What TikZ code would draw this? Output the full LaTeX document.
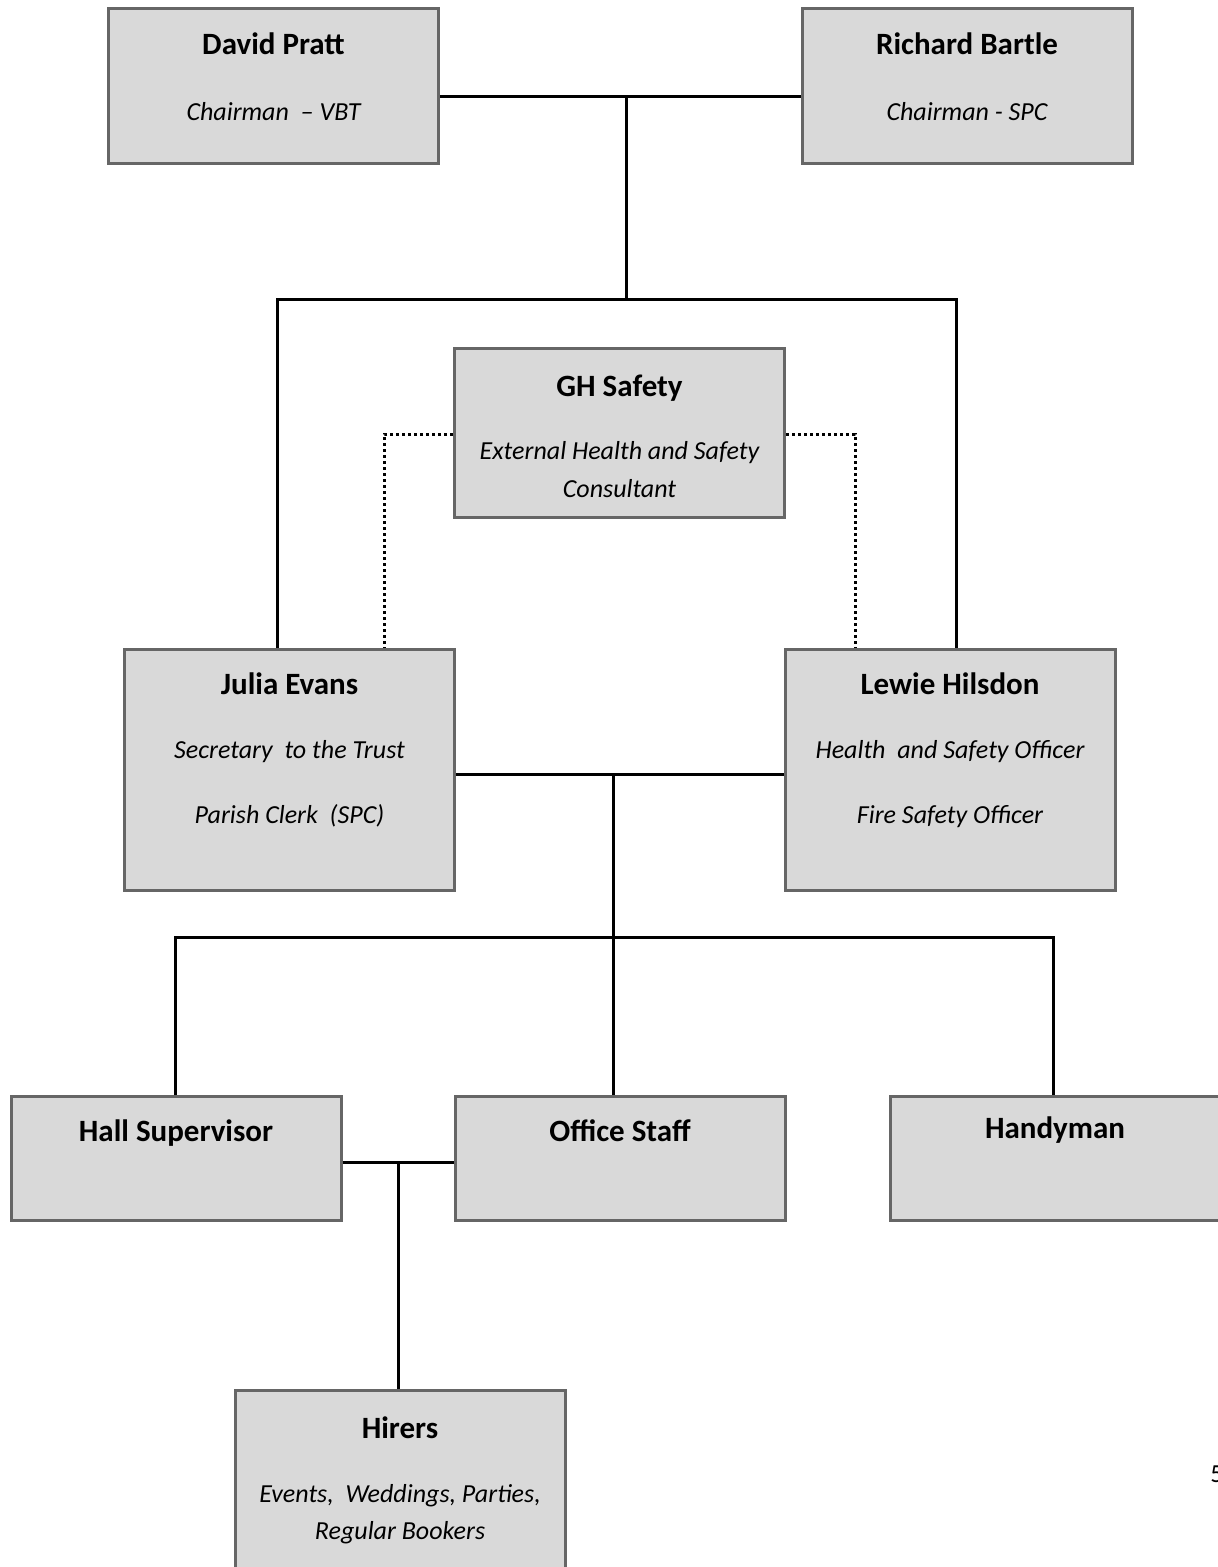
\documentclass[tikz,border=0pt]{standalone}
\usepackage{fontspec}
\setmainfont{Carlito}
\definecolor{boxfill}{HTML}{D9D9D9}
\definecolor{boxedge}{HTML}{666666}
\tikzset{
  box/.style 2 args={draw=boxedge, fill=boxfill, line width=1.5pt, inner sep=0pt,
    minimum width=#1*0.5pt, minimum height=#2*0.5pt},
  ttl/.style={font=\bfseries\fontsize{15.5}{18}\selectfont, anchor=base, inner sep=0pt},
  sub/.style={font=\itshape\fontsize{13}{15}\selectfont, anchor=base, inner sep=0pt},
  conn/.style={line width=1.5pt, black},
  dotconn/.style={line width=1.5pt, black, dash pattern=on 1.5pt off 1.5pt},
}
\begin{document}
\begin{tikzpicture}[x=0.5pt,y=-0.5pt]
\useasboundingbox (0,0) rectangle (1218,1567);
\clip (0,0) rectangle (1218,1567);
\fill[white] (0,0) rectangle (1218,1567);

% boxes
\node[box={330}{155}] (dp) at (273.5,86) {};
\node[box={330}{155}] (rb) at (967,86) {};
\node[box={330}{168}] (gh) at (619.5,433) {};
\node[box={330}{241}] (je) at (289.5,769.5) {};
\node[box={330}{241}] (lh) at (950,769.5) {};
\node[box={330}{124}] (hs) at (176,1158) {};
\node[box={330}{124}] (os) at (620,1158) {};
\node[box={330}{124}] (hm) at (1055,1158) {};
\node[box={330}{300}] (hi) at (400,1540) {};

% texts
\node[ttl] (dpT) at (273.5,55) {David Pratt};
\node[sub] (dpS) at (273.5,121) {Chairman\ \ – VBT};
\node[ttl] (rbT) at (967,55) {Richard Bartle};
\node[sub] (rbS) at (967,121) {Chairman - SPC};
\node[ttl] (ghT) at (619.5,396) {GH Safety};
\node[sub] (ghS1) at (619.5,459) {External\ Health\ and\ Safety};
\node[sub] (ghS2) at (619.5,497) {Consultant};
\node[ttl] (jeT) at (289.5,694) {Julia Evans};
\node[sub] (jeS1) at (289.5,758) {Secretary\ \ to the Trust};
\node[sub] (jeS2) at (289.5,823) {Parish Clerk\ \ (SPC)};
\node[ttl] (lhT) at (950,694) {Lewie Hilsdon};
\node[sub] (lhS1) at (950,758) {Health\ \ and Safety Officer};
\node[sub] (lhS2) at (950,823) {Fire Safety Officer};
\node[ttl] (hsT) at (176,1141) {Hall Supervisor};
\node[ttl] (osT) at (620,1141) {Office Staff};
\node[ttl] (hmT) at (1055,1138) {Handyman};
\node[ttl] (hiT) at (400,1438) {Hirers};
\node[sub] (hiS1) at (400,1502) {Events,\ \ Weddings, Parties,};
\node[sub] (hiS2) at (400,1539) {Regular Bookers};
\node[font=\fontsize{13}{15}\selectfont, anchor=base west, inner sep=0pt] (pg) at (1210,1482) {5};

% connectors
\coordinate (j0) at (626,97);
\coordinate (j1) at (626,300);
\coordinate (xl) at (277,300);
\coordinate (xr) at (956,300);
\draw[conn] (dp.east |- j0) -- (rb.west |- j0);
\draw[conn] (j0) -- (j1);
\draw[conn] (je.north -| xl) -- (xl) -- (xr) -- (lh.north -| xr);

\coordinate (dl) at (384,434);
\coordinate (dr) at (855,434);
\draw[dotconn] (gh.west |- dl) -- (dl) -- (je.north -| dl);
\draw[dotconn] (gh.east |- dr) -- (dr) -- (lh.north -| dr);

\coordinate (j2) at (613,774);
\coordinate (j3) at (613,937);
\draw[conn] (je.east |- j2) -- (lh.west |- j2);
\draw[conn] (j2) -- (os.north -| j2);
\draw[conn] (hs.north -| 175,0) |- (j3) -| (hm.north -| 1053,0);

\coordinate (j4) at (398,1162);
\draw[conn] (hs.east |- j4) -- (os.west |- j4);
\draw[conn] (j4) -- (hi.north -| j4);
\end{tikzpicture}
\end{document}
